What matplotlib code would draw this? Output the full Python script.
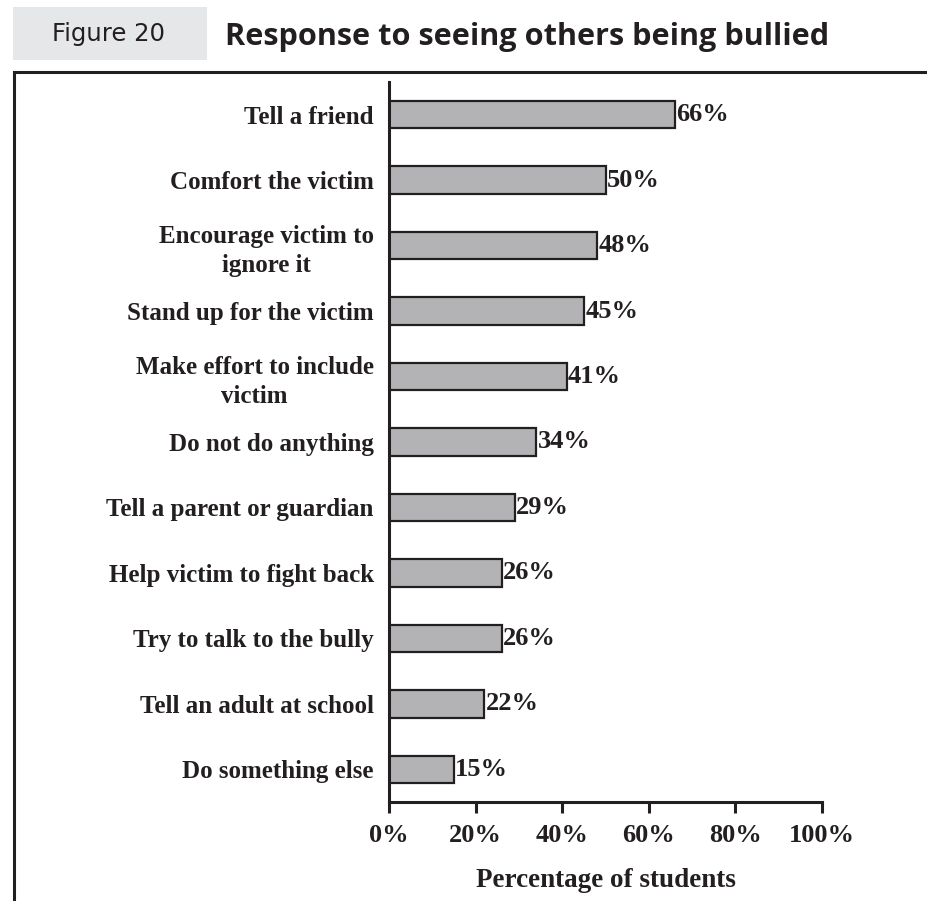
import matplotlib
matplotlib.use("Agg")
import matplotlib.pyplot as plt
from matplotlib.patches import Rectangle
from matplotlib.lines import Line2D

categories = [
    "Tell a friend",
    "Comfort the victim",
    "Encourage victim to\nignore it",
    "Stand up for the victim",
    "Make effort to include\nvictim",
    "Do not do anything",
    "Tell a parent or guardian",
    "Help victim to fight back",
    "Try to talk to the bully",
    "Tell an adult at school",
    "Do something else",
]
values = [66, 50, 48, 45, 41, 34, 29, 26, 26, 22, 15]
xticks = [0, 20, 40, 60, 80, 100]
xtick_labels = ["0%", "20%", "40%", "60%", "80%", "100%"]

W, H = 927, 901
fig = plt.figure(figsize=(W / 100, H / 100), dpi=100)

serif = "Liberation Serif"
dark = "#231f20"

# Header: grey label box and title
fig.add_artist(Rectangle((13 / W, 1 - 60 / H), (207 - 13) / W, (60 - 7) / H,
                         transform=fig.transFigure, facecolor="#e6e7e8",
                         edgecolor="none"))
fig.text(109 / W, 1 - 34 / H, "Figure 20", ha="center", va="center",
         fontsize=17.5, family="DejaVu Sans", color="#231f20")
fig.text(225 / W, 1 - 45 / H, "Response to seeing others being bullied",
         ha="left", va="baseline", fontsize=22.1, family="Open Sans",
         fontweight="bold", color="#231f20")

# Frame lines around the chart area
fig.add_artist(Line2D([14 / W, 1.0], [1 - 72 / H, 1 - 72 / H],
                      transform=fig.transFigure, color=dark, lw=2.2))
fig.add_artist(Line2D([14 / W, 14 / W], [1 - 72 / H, 0.0],
                      transform=fig.transFigure, color=dark, lw=2.2))

ax = fig.add_axes([389 / W, 1 - 802 / H, (822 - 389) / W, (802 - 82) / H])
ypos = list(range(len(categories)))
ax.barh(ypos, values, height=0.42, color="#b3b3b6", edgecolor=dark,
        linewidth=1.6)
for y, v in zip(ypos, values):
    ax.text(v + 0.3, y, f"{v}%", va="center", ha="left", fontsize=19,
            fontweight="bold", family=serif, color=dark)

ax.set_xlim(0, 100)
ax.set_ylim(len(categories) - 0.5, -0.5)
ax.set_yticks(ypos)
ax.set_yticklabels(categories, fontsize=18, fontweight="bold", family=serif,
                   color=dark, ha="right", multialignment="center",
                   linespacing=1.35)
ax.tick_params(axis="y", length=0, pad=11)
ax.set_xticks(xticks)
ax.set_xticklabels(xtick_labels, fontsize=19, fontweight="bold", family=serif,
                   color=dark)
ax.tick_params(axis="x", direction="out", length=8, width=2.2, color=dark,
               pad=8)
ax.set_xlabel("Percentage of students", fontsize=19.5, fontweight="bold",
              family=serif, color=dark, labelpad=15)

for side in ["top", "right"]:
    ax.spines[side].set_visible(False)
for side in ["left", "bottom"]:
    ax.spines[side].set_linewidth(2.2)
    ax.spines[side].set_color(dark)

fig.savefig("out.png", dpi=100)
